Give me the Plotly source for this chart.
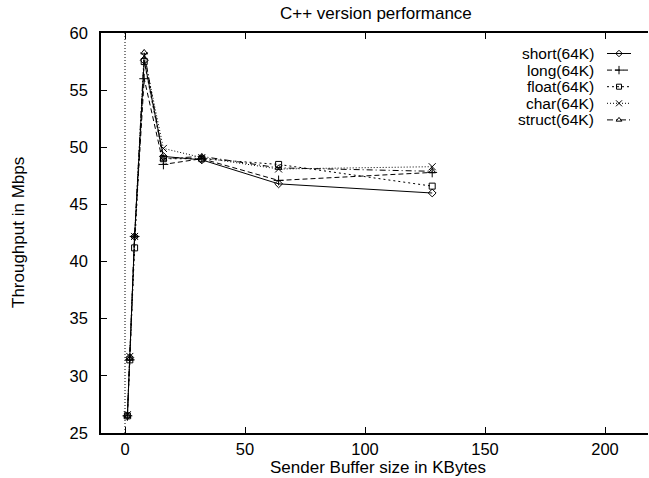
import plotly.graph_objects as go

buf_kb = [1, 2, 4, 8, 16, 32, 64, 128]
short_v = [26.5, 31.6, 42.2, 57.6, 49.2, 48.9, 46.8, 46.0]
long_v = [26.5, 31.4, 42.2, 56.0, 48.5, 49.0, 47.1, 47.8]
float_v = [26.5, 31.4, 41.2, 57.5, 49.0, 49.0, 48.5, 46.6]
char_v = [26.6, 31.7, 42.2, 58.0, 49.9, 49.1, 48.1, 48.3]
struct_v = [26.5, 31.5, 42.2, 58.3, 49.0, 49.2, 48.2, 47.9]

names = ["short(64K)", "long(64K)", "float(64K)", "char(64K)", "struct(64K)"]
series = [short_v, long_v, float_v, char_v, struct_v]
symbols = ["diamond-open", "cross-thin-open", "square-open", "x-thin-open", "triangle-up-open"]
dashes = ["solid", "5px,3px", "2px,3px", "1px,2px", "6px,3px,1px,3px"]
msizes = [6, 7, 6, 7, 6]

x_ticks = [0, 50, 100, 150, 200]
y_ticks = [25, 30, 35, 40, 45, 50, 55, 60]

W, H = 649, 478
L, R, T, B = 101, 1, 33, 45
plot_w = W - L - R
plot_h = H - T - B

fig = go.Figure()
for nm, ys, sym, dsh, ms in zip(names, series, symbols, dashes, msizes):
    fig.add_trace(go.Scatter(
        x=buf_kb, y=ys, mode="lines+markers", name=nm,
        line=dict(color="black", width=1, dash=dsh),
        marker=dict(symbol=sym, size=ms, color="black", line=dict(color="black", width=1)),
        showlegend=False,
    ))

# custom legend (text left of sample, gnuplot style)
leg_top, leg_step = 53.5, 16.6
for i, (nm, sym, dsh, ms) in enumerate(zip(names, symbols, dashes, msizes)):
    py = leg_top + i * leg_step
    fy = 1 - (py - T) / plot_h
    fx0 = (607 - L) / plot_w
    fx1 = (631 - L) / plot_w
    fig.add_trace(go.Scatter(
        x=[fx0, (fx0 + fx1) / 2, fx1], y=[fy, fy, fy], mode="lines",
        line=dict(color="black", width=1, dash=dsh),
        xaxis="x2", yaxis="y2", showlegend=False, hoverinfo="skip",
    ))
    fig.add_trace(go.Scatter(
        x=[(fx0 + fx1) / 2], y=[fy], mode="markers",
        marker=dict(symbol=sym, size=ms - 1, color="black", line=dict(color="black", width=1)),
        xaxis="x2", yaxis="y2", showlegend=False, hoverinfo="skip",
    ))
    fig.add_annotation(
        text=nm, xref="paper", yref="paper",
        x=(596 - L) / plot_w, y=fy, xanchor="right", yanchor="middle",
        showarrow=False, font=dict(size=15.5, color="black"),
    )

fig.add_shape(type="line", xref="x", yref="paper", x0=0, x1=0, y0=0, y1=1,
              line=dict(color="black", width=1, dash="1px,2px"), layer="below")

fig.add_annotation(text="C++ version performance", xref="paper", yref="paper",
                   x=(375.5 - L) / plot_w, y=1 + (T - 14) / plot_h,
                   xanchor="center", yanchor="middle", showarrow=False,
                   font=dict(size=17, color="black"))
fig.add_annotation(text="Sender Buffer size in KBytes", xref="paper", yref="paper",
                   x=(377.5 - L) / plot_w, y=-(467 - (T + plot_h)) / plot_h,
                   xanchor="center", yanchor="middle", showarrow=False,
                   font=dict(size=17, color="black"))
fig.add_annotation(text="Throughput in Mbps", xref="paper", yref="paper",
                   x=(18 - L) / plot_w, y=1 - (233 - T) / plot_h, textangle=-90,
                   xanchor="center", yanchor="middle", showarrow=False,
                   font=dict(size=17, color="black"))

fig.update_layout(
    width=W, height=H,
    margin=dict(l=L, r=R, t=T, b=B, pad=0),
    paper_bgcolor="white", plot_bgcolor="white",
    font=dict(family="Liberation Sans, Arial, sans-serif", size=16.5, color="black"),
    showlegend=False,
    xaxis=dict(range=[-10, -10 + plot_w / 2.4], tickvals=x_ticks, ticks="inside", ticklen=6,
               tickwidth=1, tickcolor="black", showline=True, linecolor="black", linewidth=1.5,
               mirror="ticks", showgrid=False, zeroline=False, ticklabelstandoff=0),
    yaxis=dict(range=[25, 60], tickvals=y_ticks, ticks="inside", ticklen=6,
               tickwidth=1, tickcolor="black", showline=True, linecolor="black", linewidth=1.5,
               mirror=False, showgrid=False, zeroline=False, ticklabelstandoff=8),
    xaxis2=dict(range=[0, 1], overlaying="x", visible=False, fixedrange=True),
    yaxis2=dict(range=[0, 1], overlaying="y", visible=False, fixedrange=True),
)

fig.write_html("out.html", config={"displayModeBar": False},
               post_script="document.body.style.margin='0';document.body.style.overflow='hidden';")
